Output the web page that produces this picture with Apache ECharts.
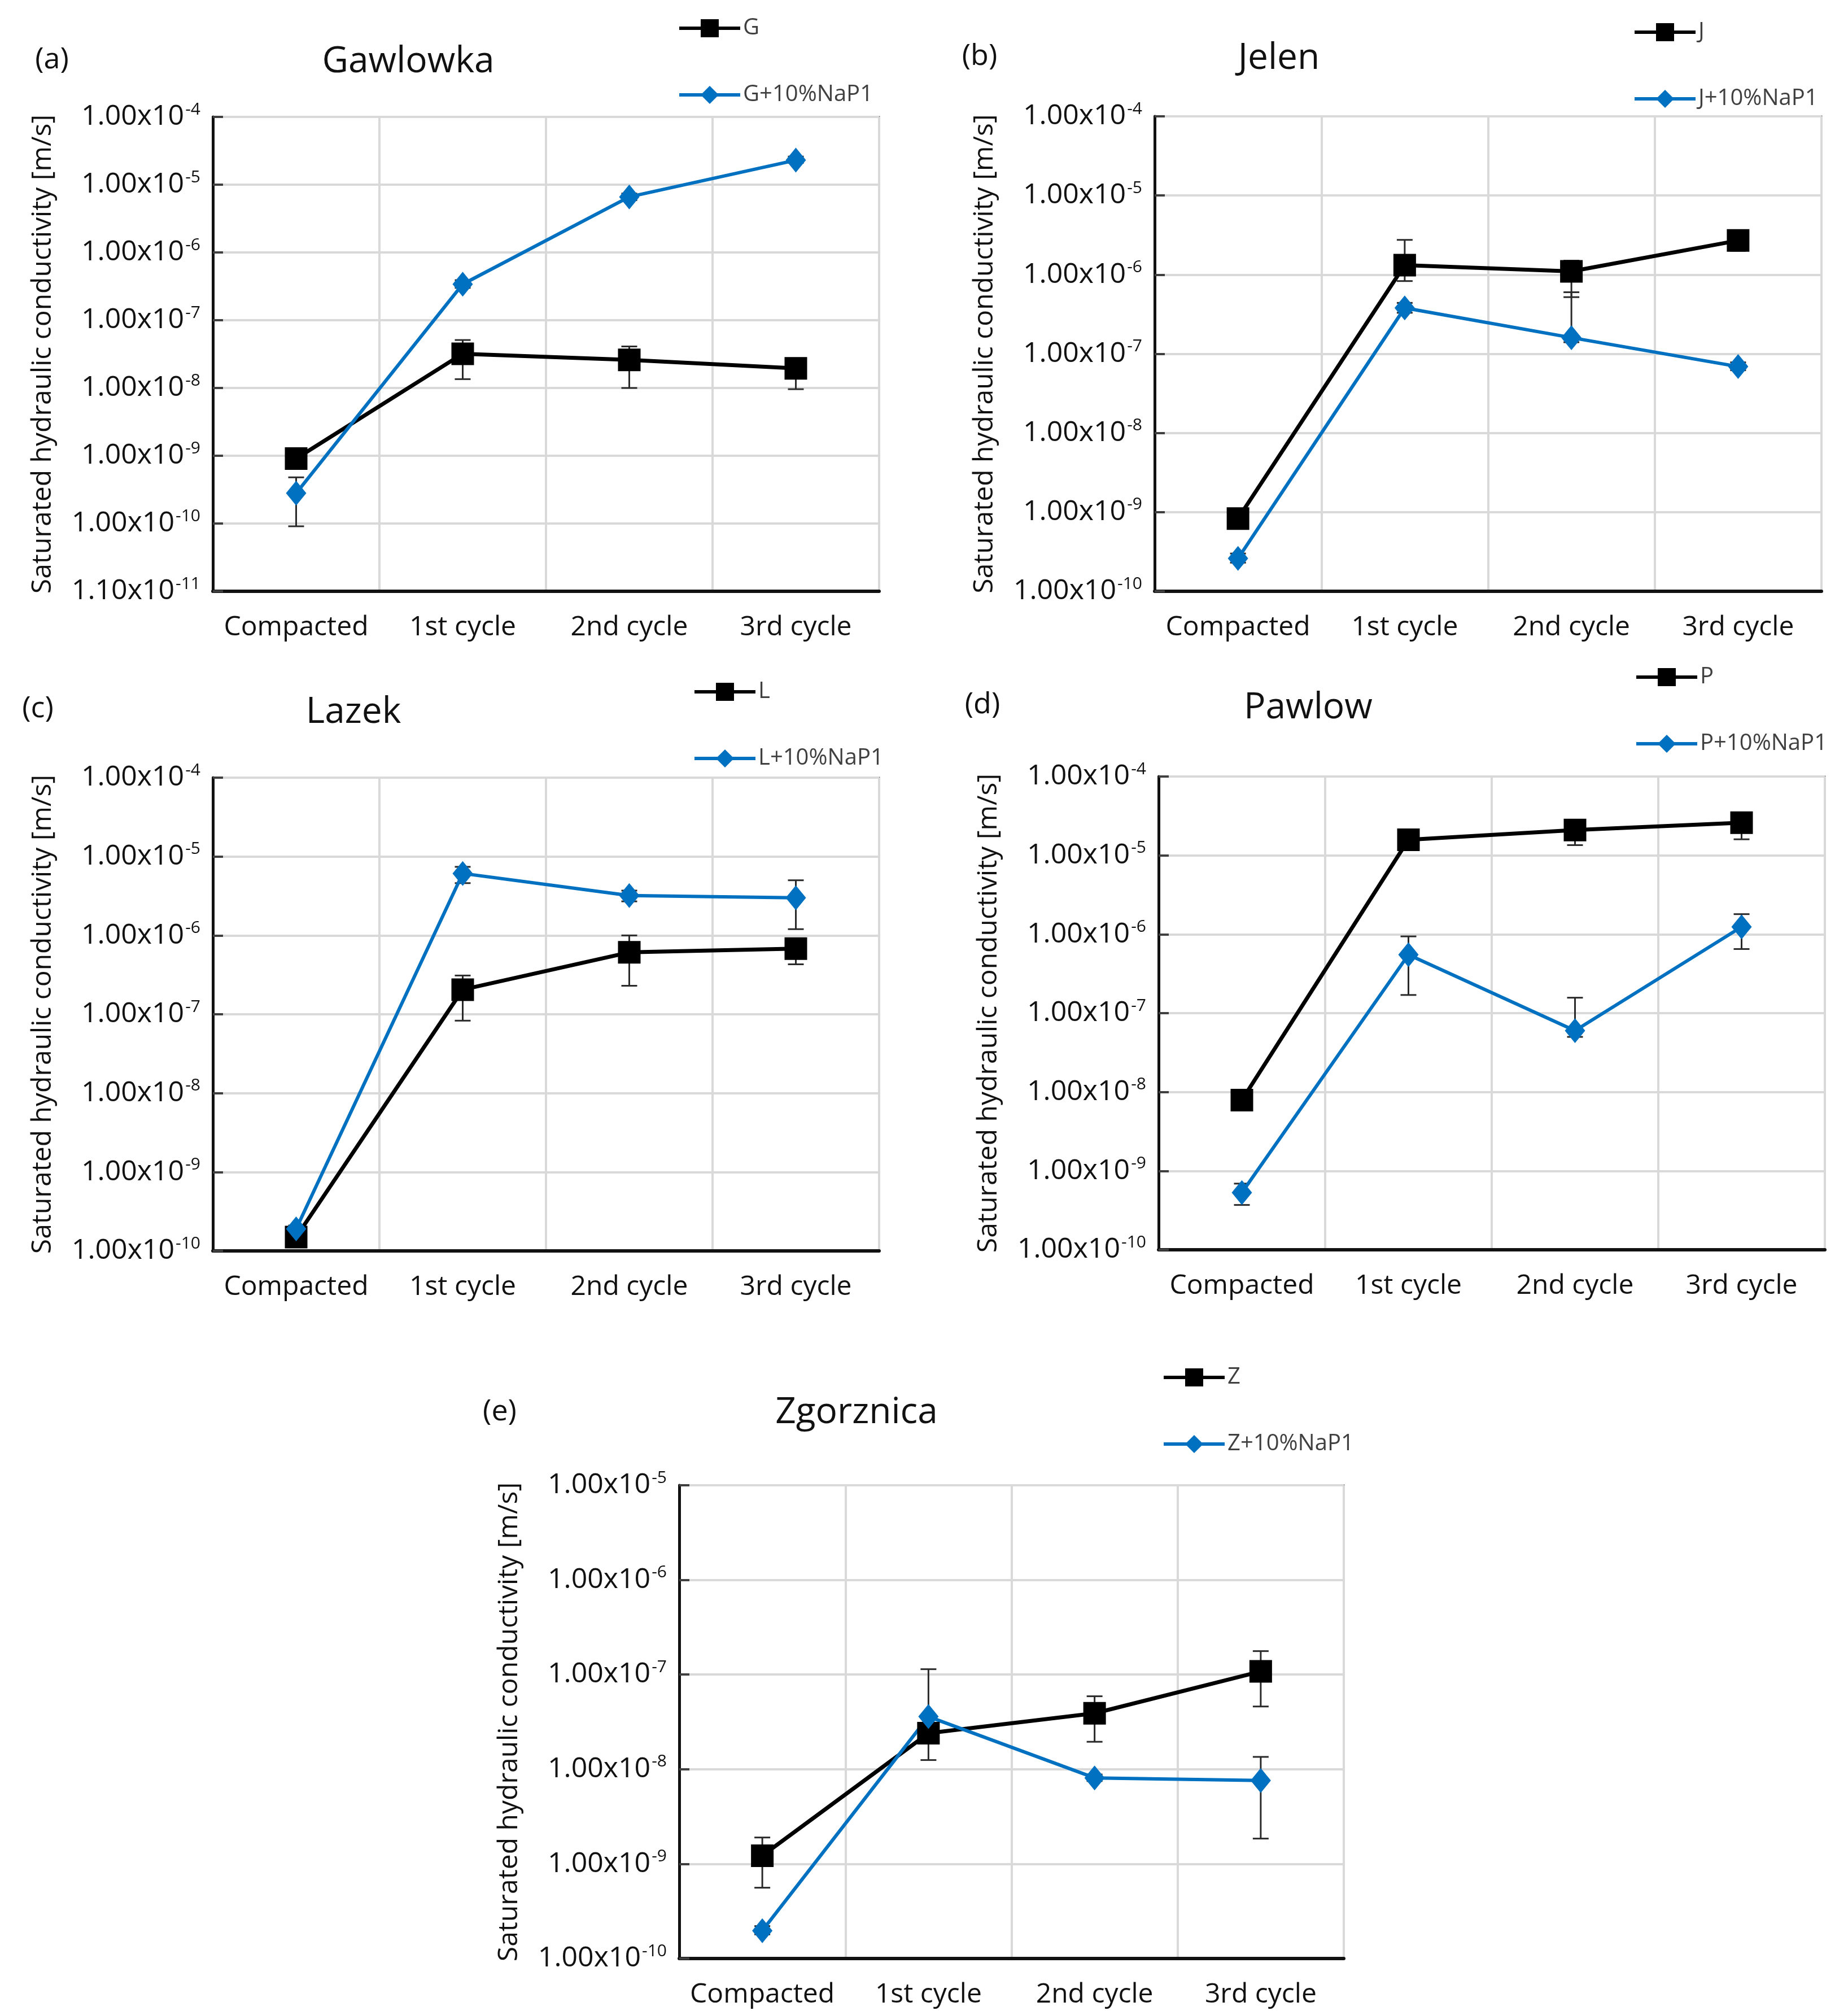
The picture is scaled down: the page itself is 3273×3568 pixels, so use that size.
<!DOCTYPE html>
<html>
<head>
<meta charset="utf-8">
<script src="https://cdn.jsdelivr.net/npm/echarts@6/dist/echarts.min.js"></script>
<style>
html,body{margin:0;padding:0;background:#ffffff;}
#chart{width:3273px;height:3568px;}
</style>
</head>
<body>
<div id="chart"></div>
<script>
// ---------- DATA ----------
const categories = ['Compacted', '1st cycle', '2nd cycle', '3rd cycle'];

// (a) Gawlowka
const gValues   = [9.1e-10, 3.2e-8, 2.6e-8, 1.95e-8];
const gErrLow   = [8.0e-10, 1.35e-8, 1.0e-8, 9.6e-9];
const gErrHigh  = [1.05e-9, 5.1e-8, 4.1e-8, 2.6e-8];
const gnValues  = [2.8e-10, 3.4e-7, 6.6e-6, 2.3e-5];
const gnErrLow  = [9.1e-11, 3.0e-7, 5.9e-6, 2.1e-5];
const gnErrHigh = [4.8e-10, 3.9e-7, 7.4e-6, 2.6e-5];

// (b) Jelen
const jValues   = [8.3e-10, 1.32e-6, 1.1e-6, 2.7e-6];
const jErrLow   = [7.2e-10, 8.3e-7, 5.2e-7, 2.0e-6];
const jErrHigh  = [9.5e-10, 2.75e-6, 1.5e-6, 3.1e-6];
const jnValues  = [2.6e-10, 3.8e-7, 1.6e-7, 6.9e-8];
const jnErrLow  = [2.3e-10, 3.3e-7, 1.4e-7, 6.2e-8];
const jnErrHigh = [3.0e-10, 4.4e-7, 6.0e-7, 7.8e-8];

// (c) Lazek
const lValues   = [1.5e-10, 2.05e-7, 6.1e-7, 6.8e-7];
const lErrLow   = [1.35e-10, 8.3e-8, 2.3e-7, 4.3e-7];
const lErrHigh  = [1.7e-10, 3.1e-7, 1.0e-6, 8.8e-7];
const lnValues  = [1.9e-10, 6.1e-6, 3.2e-6, 3.0e-6];
const lnErrLow  = [1.75e-10, 4.6e-6, 2.7e-6, 1.2e-6];
const lnErrHigh = [2.1e-10, 7.4e-6, 3.7e-6, 5.0e-6];

// (d) Pawlow
const pValues   = [7.9e-9, 1.58e-5, 2.1e-5, 2.6e-5];
const pErrLow   = [7.0e-9, 1.4e-5, 1.35e-5, 1.6e-5];
const pErrHigh  = [9.0e-9, 1.75e-5, 2.5e-5, 3.0e-5];
const pnValues  = [5.3e-10, 5.5e-7, 6.0e-8, 1.24e-6];
const pnErrLow  = [3.7e-10, 1.7e-7, 5.0e-8, 6.5e-7];
const pnErrHigh = [6.9e-10, 9.4e-7, 1.57e-7, 1.8e-6];

// (e) Zgorznica
const zValues   = [1.22e-9, 2.4e-8, 3.9e-8, 1.08e-7];
const zErrLow   = [5.6e-10, 1.25e-8, 1.95e-8, 4.6e-8];
const zErrHigh  = [1.9e-9, 3.5e-8, 5.9e-8, 1.77e-7];
const znValues  = [1.97e-10, 3.6e-8, 8.1e-9, 7.6e-9];
const znErrLow  = [1.8e-10, 3.6e-8, 7.5e-9, 1.85e-9];
const znErrHigh = [2.2e-10, 1.14e-7, 8.8e-9, 1.35e-8];

// tick labels (mantissa x10^exponent), bottom to top
const ticksA = ['1.10x10^-11', '1.00x10^-10', '1.00x10^-9', '1.00x10^-8', '1.00x10^-7', '1.00x10^-6', '1.00x10^-5', '1.00x10^-4'];
const ticksBCD = ['1.00x10^-10', '1.00x10^-9', '1.00x10^-8', '1.00x10^-7', '1.00x10^-6', '1.00x10^-5', '1.00x10^-4'];
const ticksE = ['1.00x10^-10', '1.00x10^-9', '1.00x10^-8', '1.00x10^-7', '1.00x10^-6', '1.00x10^-5'];

const panelLetters = ['(a)', '(b)', '(c)', '(d)', '(e)'];
const panelTitles = ['Gawlowka', 'Jelen', 'Lazek', 'Pawlow', 'Zgorznica'];
const seriesNames = [['G', 'G+10%NaP1'], ['J', 'J+10%NaP1'], ['L', 'L+10%NaP1'], ['P', 'P+10%NaP1'], ['Z', 'Z+10%NaP1']];
const yAxisTitle = 'Saturated hydraulic conductivity [m/s]';

// ---------- LAYOUT / STYLE ----------
const FONT = "'Open Sans', 'Noto Sans', sans-serif";
const BLACK = '#000000';
const BLUE = '#0070C0';

const panels = [
  { grid: {left: 377, top: 207, width: 1180, height: 840}, min: 1e-11, max: 1e-4, ticks: ticksA, minExp: -11,
    data: [[gValues, gErrLow, gErrHigh], [gnValues, gnErrLow, gnErrHigh]],
    letter: [92, 106], title: [723, 110], legend: [1195, 25] },
  { grid: {left: 2045, top: 206, width: 1181, height: 841}, min: 1e-10, max: 1e-4, ticks: ticksBCD, minExp: -10,
    data: [[jValues, jErrLow, jErrHigh], [jnValues, jnErrLow, jnErrHigh]],
    letter: [1735, 100], title: [2265, 104], legend: [2887, 32] },
  { grid: {left: 377, top: 1377, width: 1180, height: 838}, min: 1e-10, max: 1e-4, ticks: ticksBCD, minExp: -10,
    data: [[lValues, lErrLow, lErrHigh], [lnValues, lnErrLow, lnErrHigh]],
    letter: [67, 1255], title: [626, 1262], legend: [1222, 1200] },
  { grid: {left: 2052, top: 1375, width: 1180, height: 838}, min: 1e-10, max: 1e-4, ticks: ticksBCD, minExp: -10,
    data: [[pValues, pErrLow, pErrHigh], [pnValues, pnErrLow, pnErrHigh]],
    letter: [1740, 1248], title: [2317, 1254], legend: [2890, 1174] },
  { grid: {left: 1203, top: 2630, width: 1177, height: 838}, min: 1e-10, max: 1e-5, ticks: ticksE, minExp: -10,
    data: [[zValues, zErrLow, zErrHigh], [znValues, znErrLow, znErrHigh]],
    letter: [885, 2500], title: [1517, 2502], legend: [2053, 2414] }
];

function makeErrRender(color) {
  return function (params, api) {
    const k = api.value(0);
    const top = api.coord([k, api.value(2)]);
    const bot = api.coord([k, api.value(1)]);
    const w = 14;
    const st = { stroke: color, lineWidth: 3 };
    return {
      type: 'group',
      children: [
        { type: 'line', shape: { x1: top[0], y1: top[1], x2: bot[0], y2: bot[1] }, style: st },
        { type: 'line', shape: { x1: top[0] - w, y1: top[1], x2: top[0] + w, y2: top[1] }, style: st },
        { type: 'line', shape: { x1: bot[0] - w, y1: bot[1], x2: bot[0] + w, y2: bot[1] }, style: st }
      ]
    };
  };
}

const option = {
  animation: false,
  backgroundColor: '#ffffff',
  grid: [], xAxis: [], yAxis: [], series: [], legend: [], graphic: []
};

panels.forEach((p, i) => {
  option.grid.push(Object.assign({ show: true, borderColor: '#6e6e6e', borderWidth: 3, backgroundColor: 'transparent' }, p.grid));
  option.xAxis.push({
    type: 'category', gridIndex: i, data: categories, boundaryGap: true,
    axisLine: { show: true, lineStyle: { color: '#111111', width: 6 } },
    axisTick: { show: false },
    splitLine: { show: true, lineStyle: { color: '#d9d9d9', width: 4 } },
    axisLabel: { fontFamily: FONT, fontSize: 48, color: '#111111', margin: 40, interval: 0 }
  });
  const ticks = p.ticks, minExp = p.minExp;
  option.yAxis.push({
    type: 'log', logBase: 10, gridIndex: i, min: p.min, max: p.max,
    name: yAxisTitle, nameLocation: 'middle', nameRotate: 90, nameGap: 277,
    nameTextStyle: { fontFamily: FONT, fontSize: 48, color: '#111111' },
    axisLine: { show: true, lineStyle: { color: '#111111', width: 5 } },
    axisTick: { show: true, inside: true, length: 18, lineStyle: { color: '#404040', width: 4 } },
    splitLine: { show: true, lineStyle: { color: '#d9d9d9', width: 4 } },
    axisLabel: {
      margin: 22,
      formatter: function (v) {
        const e = Math.round(Math.log10(v));
        const lab = ticks[e - minExp];
        if (!lab) return '';
        const parts = lab.split('^');
        return '{m|' + parts[0] + '}{s|' + parts[1] + '}';
      },
      rich: {
        m: { fontFamily: FONT, fontSize: 50, color: '#111111', lineHeight: 56 },
        s: { fontFamily: FONT, fontSize: 30, color: '#111111', verticalAlign: 'top', lineHeight: 30, padding: [0, 0, 0, 2] }
      }
    }
  });
  const names = seriesNames[i];
  const styles = [
    { color: BLACK, symbol: 'rect', size: 40, width: 7 },
    { color: BLUE, symbol: 'diamond', size: [36, 44], width: 6 }
  ];
  p.data.forEach((d, s) => {
    option.series.push({
      type: 'custom', name: names[s] + ' error', xAxisIndex: i, yAxisIndex: i, z: 1, silent: true,
      data: categories.map((c, k) => [k, d[1][k], d[2][k]]),
      encode: { x: 0, y: [1, 2] },
      renderItem: makeErrRender('#2a2a2a')
    });
  });
  p.data.forEach((d, s) => {
    const st = styles[s];
    option.series.push({
      type: 'line', name: names[s], xAxisIndex: i, yAxisIndex: i, z: 3,
      data: d[0],
      symbol: st.symbol, symbolSize: st.size, showSymbol: true,
      lineStyle: { color: st.color, width: st.width },
      itemStyle: { color: st.color },
      silent: true
    });
  });
  option.legend.push({
    data: names, orient: 'vertical', left: p.legend[0], top: p.legend[1],
    itemWidth: 108, itemHeight: 40, itemGap: 78,
    lineStyle: { width: 6 },
    textStyle: { fontFamily: FONT, fontSize: 40, color: '#404040', lineHeight: 40 },
    selectedMode: false
  });
  option.graphic.push({
    type: 'text', x: p.letter[0], y: p.letter[1],
    style: { text: panelLetters[i], font: '52px ' + FONT, fill: '#111111', textAlign: 'center', textVerticalAlign: 'middle' }
  });
  option.graphic.push({
    type: 'text', x: p.title[0], y: p.title[1],
    style: { text: panelTitles[i], font: '64px ' + FONT, fill: '#111111', textAlign: 'center', textVerticalAlign: 'middle' }
  });
});

const chart = echarts.init(document.getElementById('chart'), null, { renderer: 'canvas', width: 3273, height: 3568 });
chart.setOption(option);
</script>
</body>
</html>
